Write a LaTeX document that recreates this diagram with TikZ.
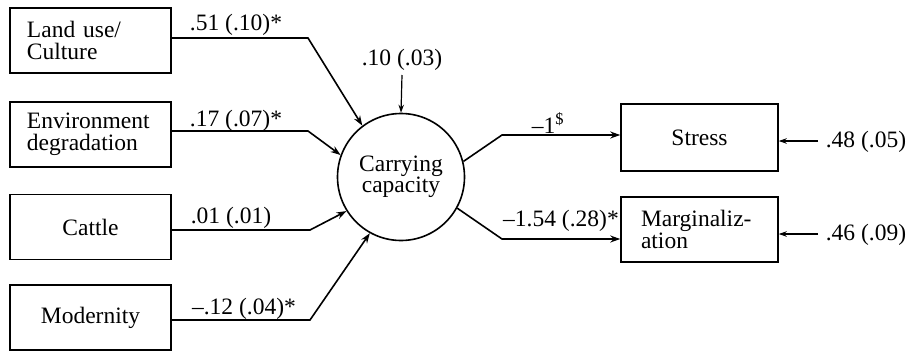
\documentclass[tikz,border=0pt]{standalone}
\usepackage{fontspec}
\setmainfont{Liberation Serif}
\newfontfamily\diagfont{Liberation Serif}
\usetikzlibrary{arrows.meta}
\begin{document}
\begin{tikzpicture}[x=1pt,y=-1pt,
  every node/.style={font=\diagfont\fontsize{23.5}{21.5}\selectfont, inner sep=0pt},
  var/.style={draw, line width=1.5pt, rectangle, minimum width=161pt, minimum height=65pt},
  latent/.style={draw, line width=1.6pt, circle, minimum size=127pt, align=center},
  path/.style={line width=1.6pt, -{Stealth[length=10pt,width=7pt]}},
  err/.style={line width=1.2pt, -{Stealth[length=8pt,width=5.5pt]}},
  coef/.style={anchor=center}]
\useasboundingbox (0,0) rectangle (910,351);

% observed predictors
\node[var, text width=127pt, align=left] (land) at (90.5,40.5) {Land use/\\Culture};
\node[var, text width=127pt, align=left] (env) at (90.5,134.5) {Environment\\degradation};
\node[var] (cattle) at (90.5,227) {Cattle};
\node[var] (modern) at (90.5,317.5) {Modernity};

% latent construct
\node[latent] (cc) at (401,177) {Carrying\\capacity};

% outcomes
\node[var, minimum width=157pt, minimum height=67pt] (stress) at (699.5,137.5) {Stress};
\node[var, minimum width=157pt, text width=117pt, align=left] (marg) at (699.5,229.5) {Marginaliz-\\ation};

% bend points of the paths
\coordinate (b1) at (308,38);
\coordinate (b2) at (308,131);
\coordinate (b3) at (310,230);
\coordinate (b4) at (310,320);
\coordinate (b5) at (502,135);
\coordinate (b6) at (502,239);

\draw[path] (land.east |- b1) -- (b1) -- (cc.127);
\draw[path] (env.east |- b2) -- (b2) -- (cc.160);
\draw[path] (cattle.east |- b3) -- (b3) -- (cc.212);
\draw[path] (modern.east |- b4) -- (b4) -- (cc.241);
\draw[path] (cc.14) -- (b5) -- (stress.west |- b5);
\draw[path] (cc.-29) -- (b6) -- (marg.west |- b6);

% path coefficients
\node[coef] (c1) at (236,25) {.51 (.10)*};
\node[coef] (c2) at (236,121) {.17 (.07)*};
\node[coef] (c3) at (231,218) {.01 (.01)};
\node[coef] (c4) at (244,309) {\textendash.12 (.04)*};
\node[coef] (c5) at (548,123) {\textendash1\textsuperscript{\$}};
\node[coef] (c6) at (561,221) {\textendash1.54 (.28)*};

% residual variances
\node[coef] (d1) at (402,60) {.10 (.03)};
\node[coef] (e1) at (866,142) {.48 (.05)};
\node[coef] (e2) at (866,235) {.46 (.09)};
\draw[err] (d1.south |- 0,75) -- (cc.north);
\draw[err] (818,141) coordinate (t1) -- (stress.east |- t1);
\draw[err] (818,234) coordinate (t2) -- (marg.east |- t2);
\end{tikzpicture}
\end{document}
